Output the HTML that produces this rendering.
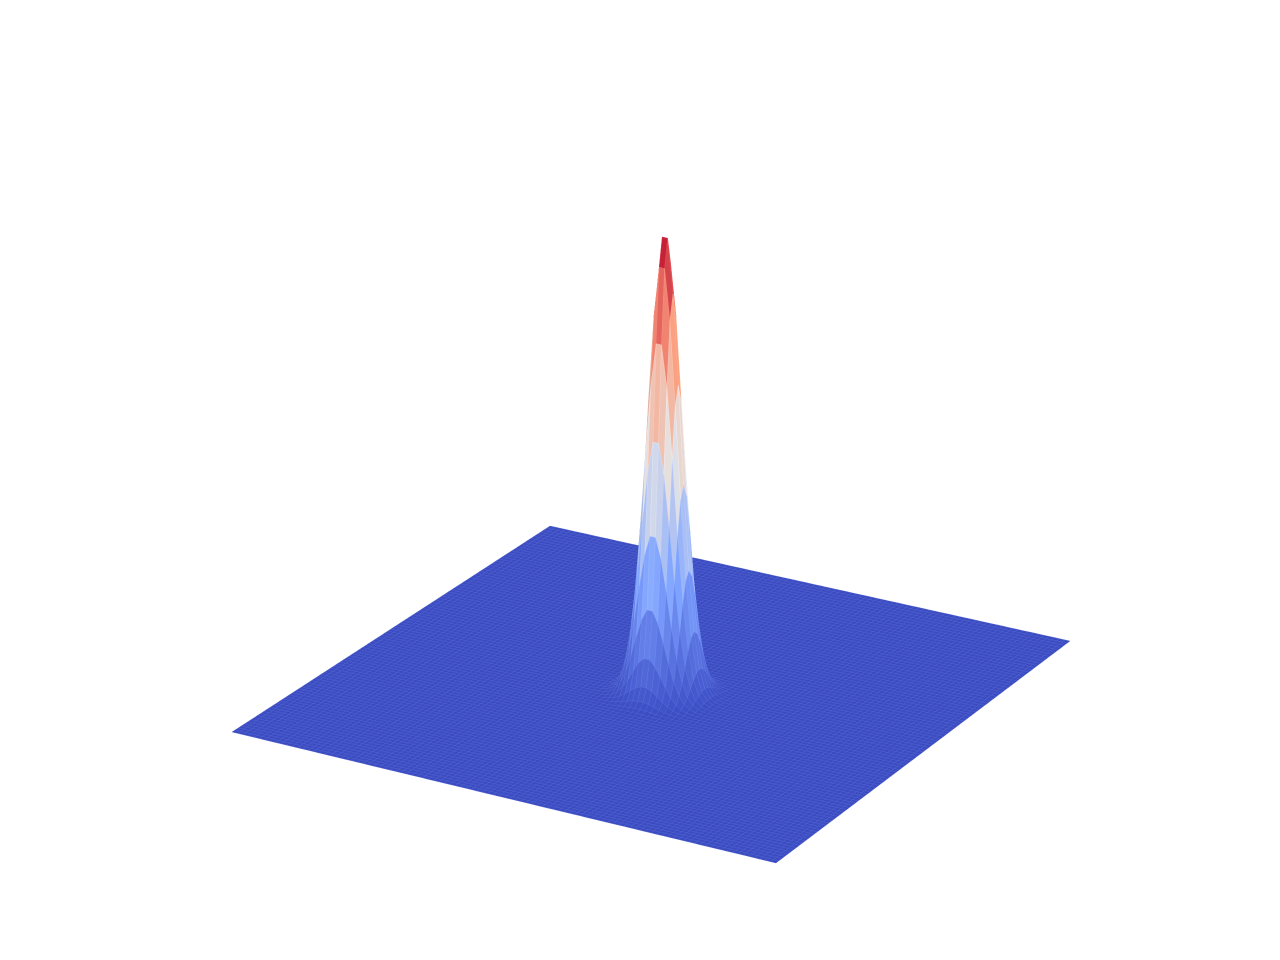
<!DOCTYPE html>
<html><head><meta charset="utf-8"><style>html,body{margin:0;padding:0;background:#fff;width:1280px;height:960px;overflow:hidden}</style></head>
<body>
<svg id="chart" width="1280" height="960" viewBox="0 0 1280 960"></svg>
<script>
// Data: grid axes and peak parameters
const gridU = Array.from({length: 101}, (_, i) => i / 100);
const gridV = Array.from({length: 101}, (_, i) => i / 100);
const peakCenter = [0.515, 0.5];
const peakHeight = [1.0];
const peakWidth = [0.028];

const svg = document.getElementById('chart');
const NS = 'http://www.w3.org/2000/svg';
const A=[232,732], B=[776,863], C=[1070,641], D=[550,526];
const zScale = 462;
function proj(u,v,z){
  const x=(1-u)*(1-v)*A[0]+u*(1-v)*B[0]+u*v*C[0]+(1-u)*v*D[0];
  const y=(1-u)*(1-v)*A[1]+u*(1-v)*B[1]+u*v*C[1]+(1-u)*v*D[1];
  return [x, y - z*zScale];
}
function zf(u,v){
  const du=u-peakCenter[0], dv=v-peakCenter[1];
  return peakHeight[0]*Math.exp(-(du*du+dv*dv)/(2*peakWidth[0]*peakWidth[0]));
}
const stops=[[0,[59,76,192]],[0.25,[124,159,249]],[0.5,[221,221,221]],[0.75,[244,154,123]],[1,[180,4,38]]];
function cmap(t){
  t=Math.max(0,Math.min(1,t));
  for(let i=1;i<stops.length;i++){
    if(t<=stops[i][0]){const a=stops[i-1],b=stops[i];const f=(t-a[0])/(b[0]-a[0]);
      return a[1].map((c,k)=>c+(b[1][k]-c)*f);}
  }
  return stops[stops.length-1][1];
}
const Z=gridU.map(u=>gridV.map(v=>zf(u,v)));
const cells=[];
for(let i=0;i<gridU.length-1;i++)for(let j=0;j<gridV.length-1;j++){
  const u0=gridU[i],u1=gridU[i+1],v0=gridV[j],v1=gridV[j+1];
  const zs=[Z[i][j],Z[i+1][j],Z[i+1][j+1],Z[i][j+1]];
  const pts=[proj(u0,v0,zs[0]),proj(u1,v0,zs[1]),proj(u1,v1,zs[2]),proj(u0,v1,zs[3])];
  const zm=(zs[0]+zs[1]+zs[2]+zs[3])/4;
  const gu=(zs[1]+zs[2]-zs[0]-zs[3])/2, gv=(zs[2]+zs[3]-zs[0]-zs[1])/2;
  let shade=1+Math.max(-0.22,Math.min(0.03,(gv-gu)*1.5));
  const col=cmap(zm).map(c=>Math.round(Math.min(255,c*shade)));
  cells.push({d:(u0+u1)/2-(v0+v1)/2, pts, col});
}
cells.sort((a,b)=>a.d-b.d);
const g=document.createElementNS(NS,'g');


svg.appendChild(g);
for(const c of cells){
  const p=document.createElementNS(NS,'polygon');
  
  
  p.setAttribute('points',c.pts.map(q=>q[0].toFixed(1)+','+q[1].toFixed(1)).join(' '));
  const rgb='rgb('+c.col.join(',')+')';
  const lt='rgb('+c.col.map(x=>Math.min(255,Math.round(x+20))).join(',')+')';
  p.setAttribute('fill',rgb);
  p.setAttribute('stroke',lt);
  p.setAttribute('stroke-width','0.35');
  g.appendChild(p);
}
</script>
</body></html>
